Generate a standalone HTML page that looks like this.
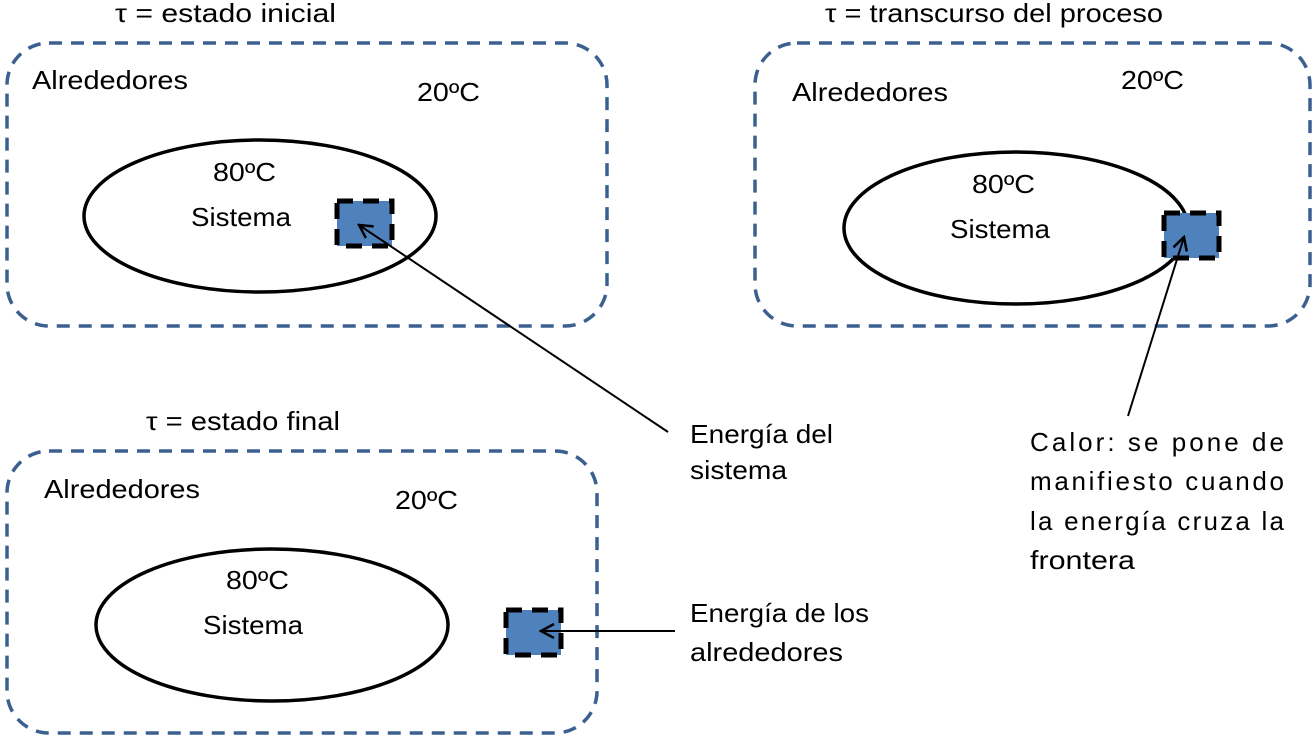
<!DOCTYPE html>
<html><head><style>
body{margin:0;background:#fff;}
svg text{font-family:"Liberation Sans","DejaVu Sans",sans-serif;font-size:26px;fill:#000;}
</style></head><body>
<svg width="1315" height="737" viewBox="0 0 1315 737" xmlns="http://www.w3.org/2000/svg">
<defs>
<marker id="a" markerWidth="16" markerHeight="16" refX="14" refY="8" orient="auto" markerUnits="userSpaceOnUse">
<path d="M1,1 L14,8 L1,15" fill="none" stroke="#000" stroke-width="2.5"/>
</marker>
</defs>
<g fill="none" stroke="#3b6090" stroke-width="3.5" stroke-dasharray="13,9">
<rect x="7" y="43" width="600" height="283" rx="42"/>
<rect x="755" y="43" width="555" height="283" rx="42"/>
<rect x="7" y="451" width="590" height="282" rx="42"/>
</g>
<g fill="none" stroke="#000" stroke-width="3.5">
<ellipse cx="260" cy="216" rx="176" ry="76"/>
<ellipse cx="1016" cy="228" rx="172" ry="76"/>
<ellipse cx="272" cy="625" rx="176" ry="76"/>
</g>
<g fill="#4f81bd" stroke="#000" stroke-width="5" stroke-dasharray="16,10">
<rect x="337" y="201" width="55" height="45"/>
<rect x="1164" y="213" width="55" height="45"/>
<rect x="506" y="610" width="55" height="45"/>
</g>
<g stroke="#000" stroke-width="2" fill="none">
<line x1="668" y1="432" x2="359" y2="225" marker-end="url(#a)"/>
<line x1="1128" y1="416" x2="1184" y2="237" marker-end="url(#a)"/>
<line x1="675" y1="631" x2="541" y2="631" marker-end="url(#a)"/>
</g>
<text x="115" y="22" textLength="221" lengthAdjust="spacingAndGlyphs">τ = estado inicial</text>
<text x="825" y="22" textLength="338" lengthAdjust="spacingAndGlyphs">τ = transcurso del proceso</text>
<text x="146" y="430" textLength="194" lengthAdjust="spacingAndGlyphs">τ = estado final</text>
<text x="32" y="89" textLength="156" lengthAdjust="spacingAndGlyphs">Alrededores</text>
<text x="417" y="101" textLength="63" lengthAdjust="spacingAndGlyphs">20ºC</text>
<text x="213" y="181" textLength="63" lengthAdjust="spacingAndGlyphs">80ºC</text>
<text x="191" y="226" textLength="100" lengthAdjust="spacingAndGlyphs">Sistema</text>
<text x="792" y="101" textLength="156" lengthAdjust="spacingAndGlyphs">Alrededores</text>
<text x="1121" y="89" textLength="63" lengthAdjust="spacingAndGlyphs">20ºC</text>
<text x="972" y="193" textLength="63" lengthAdjust="spacingAndGlyphs">80ºC</text>
<text x="950" y="238" textLength="100" lengthAdjust="spacingAndGlyphs">Sistema</text>
<text x="44" y="498" textLength="156" lengthAdjust="spacingAndGlyphs">Alrededores</text>
<text x="395" y="509" textLength="63" lengthAdjust="spacingAndGlyphs">20ºC</text>
<text x="226" y="589" textLength="63" lengthAdjust="spacingAndGlyphs">80ºC</text>
<text x="203" y="634" textLength="100" lengthAdjust="spacingAndGlyphs">Sistema</text>
<text x="690" y="443" textLength="143" lengthAdjust="spacingAndGlyphs">Energía del</text>
<text x="690" y="479" textLength="97" lengthAdjust="spacingAndGlyphs">sistema</text>
<text x="690" y="622" textLength="179" lengthAdjust="spacingAndGlyphs">Energía de los</text>
<text x="690" y="661" textLength="153" lengthAdjust="spacingAndGlyphs">alrededores</text>
<text x="1030" y="451" textLength="254" lengthAdjust="spacing">Calor: se pone de</text>
<text x="1030" y="490" textLength="254" lengthAdjust="spacing">manifiesto cuando</text>
<text x="1030" y="530" textLength="254" lengthAdjust="spacing">la energía cruza la</text>
<text x="1030" y="569" textLength="105" lengthAdjust="spacingAndGlyphs">frontera</text>
</svg>
</body></html>
